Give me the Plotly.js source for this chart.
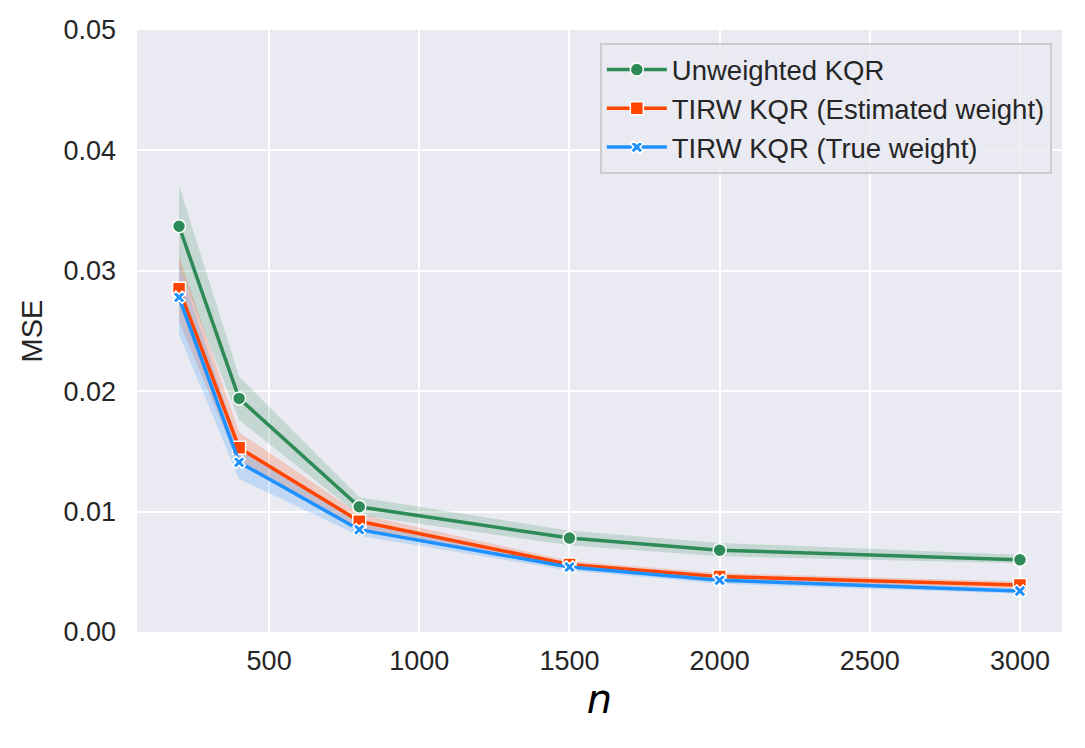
<!DOCTYPE html>
<html>
<head>
<meta charset="utf-8">
<script src="https://cdn.plot.ly/plotly-3.0.1.min.js"></script>
<style>
  html, body { margin: 0; padding: 0; background: #fff; }
  #chart { width: 1085px; height: 748px; }
</style>
</head>
<body>
<div id="chart"></div>
<script>
// sample sizes
const nValues = [200, 400, 800, 1500, 2000, 3000];

// mean MSE per method
const unweightedMse = [0.0337, 0.0194, 0.0104, 0.0078, 0.0068, 0.0060];
const estimatedMse  = [0.0285, 0.0153, 0.0092, 0.0056, 0.0046, 0.0039];
const trueMse       = [0.0278, 0.0141, 0.0085, 0.0054, 0.0043, 0.0034];

// confidence bands (lower / upper)
const unweightedLo = [0.0303, 0.0176, 0.0097, 0.0072, 0.0063, 0.0057];
const unweightedHi = [0.0371, 0.0212, 0.0112, 0.0084, 0.0074, 0.0064];
const estimatedLo  = [0.0258, 0.0139, 0.0086, 0.0053, 0.0043, 0.0036];
const estimatedHi  = [0.0312, 0.0166, 0.0098, 0.0059, 0.0049, 0.0042];
const trueLo       = [0.0247, 0.0127, 0.0080, 0.0051, 0.0040, 0.0032];
const trueHi       = [0.0305, 0.0155, 0.0090, 0.0057, 0.0046, 0.0036];

const GREEN = '#2E8B57', ORANGE = '#FF4500', BLUE = '#1E90FF';

function band(lo, hi, color) {
    return [
        { x: nValues, y: lo, type: 'scatter', mode: 'lines', line: { width: 0 },
          showlegend: false, hoverinfo: 'skip' },
        { x: nValues, y: hi, type: 'scatter', mode: 'lines', line: { width: 0 },
          fill: 'tonexty', fillcolor: color, showlegend: false, hoverinfo: 'skip' }
    ];
}

function series(y, name, color, symbol) {
    return {
        x: nValues, y: y, name: name, legendgroup: name, type: 'scatter', mode: 'lines+markers',
        line: { color: color, width: 3.5 },
        marker: { color: color, symbol: symbol, size: symbol === 'x' ? 11 : 13,
                  line: { color: '#fff', width: 1.5 } }
    };
}

const traces = [
    ...band(unweightedLo, unweightedHi, 'rgba(46,139,87,0.2)'),
    ...band(estimatedLo, estimatedHi, 'rgba(255,69,0,0.2)'),
    ...band(trueLo, trueHi, 'rgba(30,144,255,0.2)'),
    series(unweightedMse, 'Unweighted KQR', GREEN, 'circle'),
    series(estimatedMse, 'TIRW KQR (Estimated weight)', ORANGE, 'square'),
    series(trueMse, 'TIRW KQR (True weight)', BLUE, 'x')
];

const layout = {
    width: 1085, height: 748,
    margin: { l: 137, r: 23, t: 30, b: 116 },
    paper_bgcolor: '#fff',
    plot_bgcolor: '#EAEAF2',
    font: { family: 'Liberation Sans, Arial, sans-serif', color: '#262626', size: 27 },
    xaxis: {
        range: [60, 3140], tickvals: [500, 1000, 1500, 2000, 2500, 3000],
        gridcolor: '#fff', gridwidth: 2, zeroline: false, showline: false,
        ticks: '', ticklabelstandoff: 10, tickfont: { size: 27 },
        title: { text: '<i>n</i>', font: { size: 40, family: 'DejaVu Sans', color: '#000' }, standoff: 8 }
    },
    yaxis: {
        range: [0, 0.05], tickvals: [0, 0.01, 0.02, 0.03, 0.04, 0.05], tickformat: '.2f',
        gridcolor: '#fff', gridwidth: 2, zeroline: false, showline: false,
        ticks: '', ticklabelstandoff: 20, tickfont: { size: 27 },
        title: { text: 'MSE', font: { size: 29 }, standoff: 12 }
    },
    legend: {
        x: 0.989, xanchor: 'right', y: 0.978, yanchor: 'top',
        traceorder: 'normal',
        bgcolor: 'rgba(234,234,242,0.8)', bordercolor: '#cccccc', borderwidth: 2,
        font: { size: 27.5 }, tracegroupgap: 4, itemwidth: 60
    },
    showlegend: true
};

Plotly.newPlot('chart', traces, layout, { displayModeBar: false, staticPlot: true });
</script>
</body>
</html>
